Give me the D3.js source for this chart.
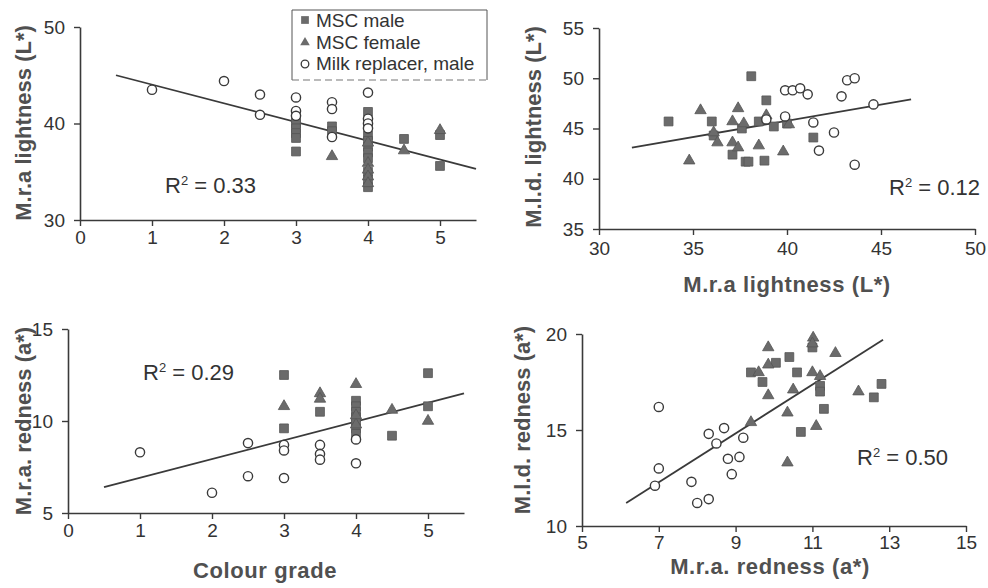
<!DOCTYPE html>
<html>
<head>
<meta charset="utf-8">
<script src="https://cdn.jsdelivr.net/npm/d3@7"></script>
<style>
  body { margin: 0; background: #fff; }
  svg { font-family: "Liberation Sans", Arial, sans-serif; }
</style>
</head>
<body>
<svg id="chart" width="988" height="588"></svg>
<script>
// ---- panel 1 : colour grade vs M.r.a lightness
const p1Male = [[3,40.5],[3,40],[3,39.5],[3,39],[3,38.5],[3,37.1],[3.5,39.7],[3.5,39.2],[4,41.2],[4,38.8],[4,38.2],[4,37.6],[4,37.0],[4,36.4],[4,35.0],[4,34.2],[4,33.4],[4.5,38.4],[5,38.8],[5,35.6]];
const p1Female = [[3.5,36.6],[4,38.0],[4,35.9],[4,35.2],[4,34.5],[4,33.8],[4.5,37.2],[5,39.3]];
const p1Milk = [[1,43.5],[2,44.4],[2.5,43.0],[2.5,40.9],[3,42.7],[3,41.3],[3,40.8],[3.5,42.2],[3.5,41.5],[3.5,38.6],[4,43.2],[4,40.5],[4,40.0],[4,39.5]];
const p1Trend = [[0.5,45.0],[5.5,35.3]];

// ---- panel 2 : M.r.a lightness vs M.l.d lightness
const p2Male = [[38.1,50.2],[33.7,45.7],[36.0,45.7],[38.9,47.8],[38.5,45.7],[39.3,45.2],[40.0,45.5],[37.6,45.0],[41.4,44.1],[37.1,42.4],[37.8,41.7],[37.95,41.7],[38.8,41.8],[36.1,44.3]];
const p2Female = [[35.4,46.8],[37.4,47.0],[37.1,45.7],[37.7,45.5],[38.9,46.3],[36.3,43.6],[37.1,43.6],[37.4,43.1],[38.5,43.3],[39.8,42.7],[34.8,41.8],[40.1,45.4],[36.1,44.6]];
const p2Milk = [[39.9,48.8],[40.3,48.8],[40.7,49.0],[41.1,48.4],[43.2,49.8],[43.6,50.0],[42.9,48.2],[44.6,47.4],[39.9,46.2],[41.4,45.6],[42.5,44.6],[41.7,42.8],[43.6,41.4],[38.9,45.9]];
const p2Trend = [[31.75,43.1],[46.6,47.9]];

// ---- panel 3 : colour grade vs M.r.a redness
const p3Male = [[3,12.5],[3,9.6],[3.5,10.5],[4,11.1],[4,10.8],[4,10.5],[4,10.2],[4,9.9],[4,9.6],[4,9.3],[4.5,9.2],[5,12.6],[5,10.8]];
const p3Female = [[3,10.8],[3.5,11.5],[3.5,11.2],[4,12.0],[4,10.3],[4,9.8],[4.5,10.6],[5,10.0]];
const p3Milk = [[1,8.3],[2,6.1],[2.5,7.0],[2.5,8.8],[3,8.7],[3,8.4],[3,6.9],[3.5,8.7],[3.5,8.2],[3.5,7.9],[4,9.0],[4,7.7]];
const p3Trend = [[0.5,6.4],[5.5,11.5]];

// ---- panel 4 : M.r.a redness vs M.l.d redness
const p4Male = [[10.4,18.8],[10.05,18.5],[9.4,18.0],[9.7,17.5],[10.6,18.0],[11.2,17.3],[11.2,17.0],[12.8,17.4],[12.6,16.7],[11.3,16.1],[10.7,14.9],[11.0,19.3]];
const p4Female = [[9.85,19.3],[11.02,19.8],[11.0,19.5],[11.6,19.0],[9.85,18.4],[9.6,18.0],[11.0,18.0],[11.2,17.8],[10.5,17.1],[9.85,16.8],[12.2,17.0],[10.35,15.9],[11.1,15.2],[9.4,15.4],[10.35,13.3]];
const p4Milk = [[7.0,16.2],[7.0,13.0],[6.9,12.1],[7.85,12.3],[8.0,11.2],[8.3,11.4],[8.3,14.8],[8.5,14.3],[8.7,15.1],[8.8,13.5],[8.9,12.7],[9.1,13.6],[9.2,14.6]];
const p4Trend = [[6.15,11.2],[12.84,19.7]];

const legendLabels = ['MSC male', 'MSC female', 'Milk replacer, male'];

const svg = d3.select('#chart');
const ink = '#3a3a3a';

const squareSym = d3.symbol().type(d3.symbolSquare).size(78);
const triSym = d3.symbol().type(d3.symbolTriangle).size(56);

function drawPanel(cfg) {
  const x = d3.scaleLinear().domain(cfg.xDomain).range(cfg.xRange);
  const y = d3.scaleLinear().domain(cfg.yDomain).range(cfg.yRange);
  const g = svg.append('g');

  const xAxis = g.append('g')
    .attr('transform', 'translate(0,' + cfg.yRange[0] + ')')
    .call(d3.axisBottom(x).tickValues(cfg.xTicks).tickFormat(d3.format('d'))
      .tickSizeInner(6).tickSizeOuter(0).tickPadding(cfg.xPad || 5));
  const yAxis = g.append('g')
    .attr('transform', 'translate(' + cfg.xRange[0] + ',0)')
    .call(d3.axisLeft(y).tickValues(cfg.yTicks).tickFormat(d3.format('d'))
      .tickSizeInner(6).tickSizeOuter(0).tickPadding(9));

  [xAxis, yAxis].forEach(function(a) {
    a.select('.domain').attr('stroke', ink).attr('stroke-width', 1.6);
    a.selectAll('.tick line').attr('stroke', ink).attr('stroke-width', 1.4);
    a.selectAll('.tick text').attr('fill', '#333').style('font-size', '19px');
  });

  // trend line
  g.append('path')
    .attr('d', d3.line().x(function(d) { return x(d[0]); }).y(function(d) { return y(d[1]); })(cfg.trend))
    .attr('stroke', ink).attr('stroke-width', 1.8).attr('fill', 'none');

  g.selectAll('.sq').data(cfg.male).enter()
    .append('path')
    .attr('transform', function(d) { return 'translate(' + x(d[0]) + ',' + y(d[1]) + ')'; })
    .attr('d', squareSym)
    .attr('fill', '#6b6b6b').attr('stroke', '#555').attr('stroke-width', 0.8);

  g.selectAll('.tri').data(cfg.female).enter()
    .append('path')
    .attr('transform', function(d) { return 'translate(' + x(d[0]) + ',' + y(d[1]) + ')'; })
    .attr('d', triSym)
    .attr('fill', '#6b6b6b').attr('stroke', '#555').attr('stroke-width', 0.8);

  g.selectAll('.circ').data(cfg.milk).enter()
    .append('circle')
    .attr('cx', function(d) { return x(d[0]); })
    .attr('cy', function(d) { return y(d[1]); })
    .attr('r', 4.6)
    .attr('fill', '#fff').attr('stroke', ink).attr('stroke-width', 1.4);

  // R squared
  const r2 = g.append('text')
    .attr('x', cfg.r2Pos[0]).attr('y', cfg.r2Pos[1])
    .attr('fill', '#333').style('font-size', '22px');
  r2.append('tspan').text('R');
  r2.append('tspan').attr('dy', -8).style('font-size', '13px').text('2');
  r2.append('tspan').attr('dy', 8).text(' = ' + cfg.r2);

  // axis titles
  g.append('text')
    .attr('transform', 'translate(' + cfg.yTitlePos[0] + ',' + cfg.yTitlePos[1] + ') rotate(-90)')
    .attr('text-anchor', 'middle')
    .attr('fill', '#505050').style('font-size', '22px').style('font-weight', 'bold')
    .text(cfg.yTitle);

  if (cfg.xTitle) {
    g.append('text')
      .attr('x', cfg.xTitlePos[0]).attr('y', cfg.xTitlePos[1])
      .attr('text-anchor', 'middle')
      .attr('fill', '#505050').style('font-size', '22px').style('font-weight', 'bold')
      .style('letter-spacing', '0.6px')
      .text(cfg.xTitle);
  }
}

drawPanel({
  xDomain: [0, 5.5], xRange: [80, 476], yDomain: [30, 50], yRange: [220, 27],
  xTicks: [0, 1, 2, 3, 4, 5], yTicks: [30, 40, 50],
  male: p1Male, female: p1Female, milk: p1Milk, trend: p1Trend,
  r2: '0.33', r2Pos: [165, 193],
  yTitle: 'M.r.a lightness (L*)', yTitlePos: [31, 123]
});

drawPanel({
  xDomain: [30, 50], xRange: [599, 975], yDomain: [35, 55], yRange: [229, 28],
  xTicks: [30, 35, 40, 45, 50], yTicks: [35, 40, 45, 50, 55], xPad: 7,
  male: p2Male, female: p2Female, milk: p2Milk, trend: p2Trend,
  r2: '0.12', r2Pos: [889, 195],
  yTitle: 'M.l.d. lightness (L*)', yTitlePos: [541, 127],
  xTitle: 'M.r.a lightness (L*)', xTitlePos: [787, 292]
});

drawPanel({
  xDomain: [0, 5.5], xRange: [68, 464], yDomain: [5, 15], yRange: [513, 329],
  xTicks: [0, 1, 2, 3, 4, 5], yTicks: [5, 10, 15],
  male: p3Male, female: p3Female, milk: p3Milk, trend: p3Trend,
  r2: '0.29', r2Pos: [143, 380],
  yTitle: 'M.r.a. redness (a*)', yTitlePos: [31, 421],
  xTitle: 'Colour grade', xTitlePos: [265, 578]
});

drawPanel({
  xDomain: [5, 15], xRange: [582, 966], yDomain: [10, 20], yRange: [526, 334],
  xTicks: [5, 7, 9, 11, 13, 15], yTicks: [10, 15, 20], xPad: 4,
  male: p4Male, female: p4Female, milk: p4Milk, trend: p4Trend,
  r2: '0.50', r2Pos: [857, 465],
  yTitle: 'M.l.d. redness (a*)', yTitlePos: [530, 420],
  xTitle: 'M.r.a. redness (a*)', xTitlePos: [770, 574]
});

// legend (sits inside the first panel)
const leg = svg.append('g');
leg.append('path')
  .attr('d', 'M292,80 L292,10 L487,10 L487,80')
  .attr('fill', 'none').attr('stroke', '#555').attr('stroke-width', 1);
leg.append('line')
  .attr('x1', 292).attr('x2', 487).attr('y1', 80).attr('y2', 80)
  .attr('stroke', '#777').attr('stroke-width', 1.2).attr('stroke-dasharray', '7,4');

const legY = d3.scalePoint().domain(legendLabels).range([20, 63]);
leg.append('path')
  .attr('transform', 'translate(305,' + legY(legendLabels[0]) + ')')
  .attr('d', d3.symbol().type(d3.symbolSquare).size(60))
  .attr('fill', '#6b6b6b');
leg.append('path')
  .attr('transform', 'translate(305,' + (legY(legendLabels[1]) + 1) + ')')
  .attr('d', d3.symbol().type(d3.symbolTriangle).size(40))
  .attr('fill', '#6b6b6b');
leg.append('circle')
  .attr('cx', 305).attr('cy', legY(legendLabels[2]) + 1).attr('r', 3.8)
  .attr('fill', '#fff').attr('stroke', ink).attr('stroke-width', 1.3);

leg.selectAll('.lt').data(legendLabels).enter()
  .append('text')
  .attr('x', 316)
  .attr('y', function(d) { return legY(d) + 7; })
  .attr('fill', '#333').style('font-size', '19px')
  .text(function(d) { return d; });
</script>
</body>
</html>
